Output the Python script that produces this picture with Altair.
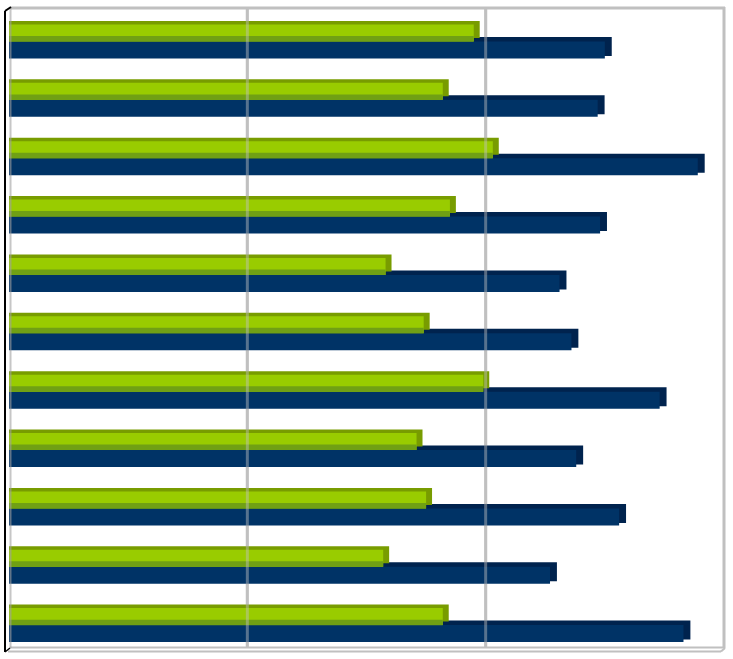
import altair as alt
import pandas as pd

# ---- data ----
categories = ["C1", "C2", "C3", "C4", "C5", "C6", "C7", "C8", "C9", "C10", "C11"]
green_values = [195, 182, 203, 185, 158, 174, 199, 171, 175, 157, 182]
navy_values = [250, 247, 289, 248, 231, 236, 273, 238, 256, 227, 283]
grid_values = [100, 200]

df_green = pd.DataFrame({"cat": categories, "value": green_values})
df_navy = pd.DataFrame({"cat": categories, "value": navy_values})
df_grid = pd.DataFrame({"value": grid_values})
one = pd.DataFrame({"a": [0]})

xs = alt.Scale(domain=[0, 300], range=[9, 724], nice=False)
ys = alt.Scale(domain=categories, range=[8, 650], paddingInner=0, paddingOuter=0)

X = alt.X("value:Q", scale=xs, axis=None)
XD = alt.X("depth:Q", scale=xs, axis=None)
Y = alt.Y("cat:N", scale=ys, axis=None, sort=categories)

GRID = "#c0c0c0"

grid_back = alt.Chart(df_grid).mark_rule(color=GRID, strokeWidth=3).encode(
    x=alt.X("value:Q", scale=xs, axis=None), y=alt.value(8), y2=alt.value(648)
)

# depth faces (top + side) drawn behind the front faces
navy_back = alt.Chart(df_navy).transform_calculate(depth="datum.value + 2.9").mark_bar(
    height=19, yOffset=9.3, color="#00234e").encode(x=XD, y=Y)
navy_front = alt.Chart(df_navy).mark_bar(height=17, yOffset=12.8, color="#003366").encode(x=X, y=Y)
green_back = alt.Chart(df_green).transform_calculate(depth="datum.value + 2.5").mark_bar(
    height=17, yOffset=-7.7, color="#789c00").encode(x=XD, y=Y)
green_front = alt.Chart(df_green).mark_bar(height=17, yOffset=-4.2, color="#99cc00").encode(x=X, y=Y)
green_stripe = alt.Chart(df_green).mark_bar(height=5.5, yOffset=1.6, color="#70a014").encode(x=X, y=Y)

grid_front = alt.Chart(df_grid).mark_rule(color=GRID, strokeWidth=3, opacity=0.45).encode(
    x=alt.X("value:Q", scale=xs, axis=None), y=alt.value(8), y2=alt.value(648)
)

def line(x, x2, y, y2, color=GRID, sw=3, op=1.0):
    return alt.Chart(one).mark_rule(color=color, strokeWidth=sw, opacity=op).encode(
        x=alt.value(x), x2=alt.value(x2), y=alt.value(y), y2=alt.value(y2)
    )

frame = [
    line(11, 725, 8, 8),
    line(724, 724, 7, 648),
    line(10, 724, 647.5, 647.5, sw=2),
    line(8, 721, 651.5, 651.5, sw=2),
    line(721, 725, 651.5, 648, sw=2),
    line(10.5, 10.5, 8, 648, color="#a0a0a0", sw=2, op=0.6),
    line(5, 5, 11, 652, color="#000000", sw=2),
    line(5, 11, 11, 7, color="#000000", sw=2),
    line(5, 10, 652, 648, color="#000000", sw=1.5),
]

chart = alt.layer(
    grid_back, navy_back, navy_front, green_back, green_front, green_stripe, grid_front, *frame
).properties(
    width=733, height=659, autosize=alt.AutoSizeParams(type="none"), padding=0, background="white"
).configure_view(stroke=None)

chart.save("out.html", embed_options={"renderer": "svg", "actions": False})
